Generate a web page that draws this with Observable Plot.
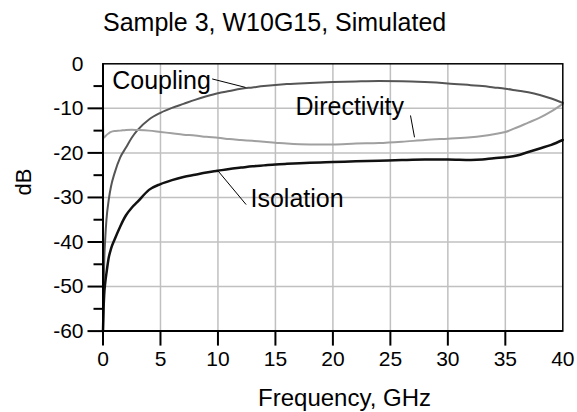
<!DOCTYPE html>
<html>
<head>
<meta charset="utf-8">
<script src="https://cdn.jsdelivr.net/npm/d3@7"></script>
<script src="https://cdn.jsdelivr.net/npm/@observablehq/plot@0.6"></script>
<style>
  html, body { margin: 0; padding: 0; background: #fff; }
  #wrap { position: relative; width: 577px; height: 412px; }
  #wrap svg { position: absolute; left: 0; top: 0; }
</style>
</head>
<body>
<div id="wrap"></div>
<script>
// ---- data ----
const freq = [0, 0.05, 0.1, 0.2, 0.3, 0.5, 0.7, 1, 1.5, 2, 2.5, 3, 4, 5, 6, 7, 8, 9, 10, 11, 12, 13, 14, 15, 16, 18, 20, 22, 24, 26, 28, 30, 32, 33, 34, 35, 36, 37, 38, 39, 40];
const coupling = [-60, -52, -45, -39, -35, -30.5, -27.5, -24.6, -21, -18.8, -16.6, -14.9, -12.5, -11.0, -9.9, -9.0, -8.1, -7.3, -6.6, -6.1, -5.6, -5.3, -5.0, -4.75, -4.55, -4.3, -4.1, -3.95, -3.85, -3.9, -4.1, -4.4, -4.8, -5.0, -5.3, -5.6, -6.0, -6.4, -7.0, -7.8, -8.8];
const directivity = [-13.5, -16.6, -16.5, -16.3, -16.0, -15.6, -15.3, -15.1, -15.0, -14.85, -14.8, -14.85, -15.0, -15.3, -15.6, -15.9, -16.1, -16.4, -16.6, -16.9, -17.1, -17.3, -17.5, -17.7, -17.9, -18.1, -18.1, -17.9, -17.8, -17.5, -17.1, -16.8, -16.5, -16.2, -15.8, -15.3, -14.3, -13.2, -12.1, -10.7, -9.0];
const isolation = [-60, -55, -52, -49, -47, -43.5, -41.5, -39.5, -36.5, -34, -32.3, -31, -28.3, -27.0, -26.1, -25.4, -24.9, -24.4, -24.0, -23.6, -23.3, -23.0, -22.8, -22.6, -22.45, -22.2, -22.05, -21.9, -21.75, -21.6, -21.5, -21.5, -21.6, -21.5, -21.2, -21.0, -20.6, -19.8, -19.0, -18.2, -17.1];

const seriesNames = ["Coupling", "Directivity", "Isolation"];
const seriesColors = ["#555555", "#a0a0a0", "#111111"];
const seriesWidths = [2, 2, 2.5];

// annotation labels (data units) and their leader lines
const labelText = ["Coupling", "Directivity", "Isolation"];
const labelX = [0.8, 16.75, 12.83];
const labelY = [-3.9, -9.7, -30.4];
const leaderX1 = [9.5, 26.75, 9.93];
const leaderY1 = [-3.4, -11.6, -23.8];
const leaderX2 = [12.4, 27.1, 12.45];
const leaderY2 = [-5.3, -16.5, -31.6];

// ticks
const xTickLabels = [0, 5, 10, 15, 20, 25, 30, 35, 40];
const xTickMarks = [0, 5, 10, 15, 20, 25, 30, 35];
const xGrid = [5, 10, 15, 20, 25, 30, 35];
const yTickLabels = [0, -10, -20, -30, -40, -50, -60];
const yTickMajor = [-10, -20, -30, -40, -50, -60];
const yTickMinor = [-5, -15, -25, -35, -45, -55];
const yGrid = [-10, -20, -30, -40, -50];

const titleText = "Sample 3, W10G15, Simulated";
const xLabel = "Frequency, GHz";
const yLabel = "dB";

// ---- layout ----
const W = 577, H = 412;
const mL = 102.5, mR = 14.7, mT = 63.3, mB = 81.4;
const xDomain = [0, 40], yDomain = [-60, 0];
const majorLen = 15, minorLen = 9;

// ---- build table ----
const rows = [];
const seriesArrays = [coupling, directivity, isolation];
seriesNames.forEach((name, s) => {
  freq.forEach((f, i) => rows.push({series: name, f, v: seriesArrays[s][i]}));
});
const labels = labelText.map((t, i) => ({t, x: labelX[i], y: labelY[i]}));
const leaders = labelText.map((t, i) => ({x1: leaderX1[i], y1: leaderY1[i], x2: leaderX2[i], y2: leaderY2[i]}));

const fmt = d => String(d);
const font = "'Liberation Sans', Arial, sans-serif";
const base = {
  width: W, height: H,
  marginLeft: mL, marginRight: mR, marginTop: mT, marginBottom: mB,
  x: {domain: xDomain, axis: null, label: null},
  y: {domain: yDomain, axis: null, label: null}
};

// layer 1: grid, curves, texts
const chart = Plot.plot({
  ...base,
  style: {fontFamily: font, background: "#fff", color: "#000"},
  marks: [
    Plot.gridX(xGrid, {stroke: "#c0c0c0", strokeOpacity: 1, strokeWidth: 1.5}),
    Plot.gridY(yGrid, {stroke: "#c0c0c0", strokeOpacity: 1, strokeWidth: 1.5}),
    ...seriesNames.map((name, s) =>
      Plot.line(rows.filter(r => r.series === name), {
        x: "f", y: "v", stroke: seriesColors[s], strokeWidth: seriesWidths[s], curve: "monotone-x"
      })
    ),
    Plot.axisX({ticks: xTickLabels, tickSize: 0, tickPadding: 20, tickFormat: fmt, fontSize: 21, fill: "#000", label: null}),
    Plot.axisY({ticks: yTickLabels, tickSize: 0, tickPadding: 19.5, tickFormat: fmt, fontSize: 21, fill: "#000", label: null}),
    Plot.link(leaders, {x1: "x1", y1: "y1", x2: "x2", y2: "y2", stroke: "#000", strokeWidth: 1}),
    Plot.text(labels, {x: "x", y: "y", text: "t", textAnchor: "start", lineAnchor: "middle", fontSize: 25, fill: "#000"}),
    Plot.text([titleText], {frameAnchor: "top-left", dy: -40.7, textAnchor: "start", lineAnchor: "middle", fontSize: 25, fill: "#000"}),
    Plot.text([xLabel], {frameAnchor: "bottom", dx: 11.6, dy: 67, lineAnchor: "middle", fontSize: 24, fill: "#000"}),
    Plot.text([yLabel], {frameAnchor: "left", dx: -79.5, dy: -2, rotate: -90, lineAnchor: "middle", fontSize: 22, fill: "#000"})
  ]
});

// layer 2: frame, axis lines and outward tick marks (same scales, transparent)
const overlay = Plot.plot({
  ...base,
  style: {background: "transparent"},
  marks: [
    Plot.frame({stroke: "#000", strokeWidth: 1.5}),
    Plot.ruleY([yDomain[0]], {stroke: "#000", strokeWidth: 2}),
    Plot.ruleX([xDomain[0]], {stroke: "#000", strokeWidth: 2}),
    Plot.axisX({ticks: xTickMarks, tickSize: majorLen, tickFormat: () => "", stroke: "#000", strokeWidth: 2, label: null}),
    Plot.axisY({ticks: yTickMajor, tickSize: majorLen, tickFormat: () => "", stroke: "#000", strokeWidth: 2, label: null}),
    Plot.axisY({ticks: yTickMinor, tickSize: minorLen, tickFormat: () => "", stroke: "#000", strokeWidth: 2, label: null})
  ]
});

const wrap = document.getElementById("wrap");
wrap.appendChild(chart);
wrap.appendChild(overlay);
</script>
</body>
</html>
